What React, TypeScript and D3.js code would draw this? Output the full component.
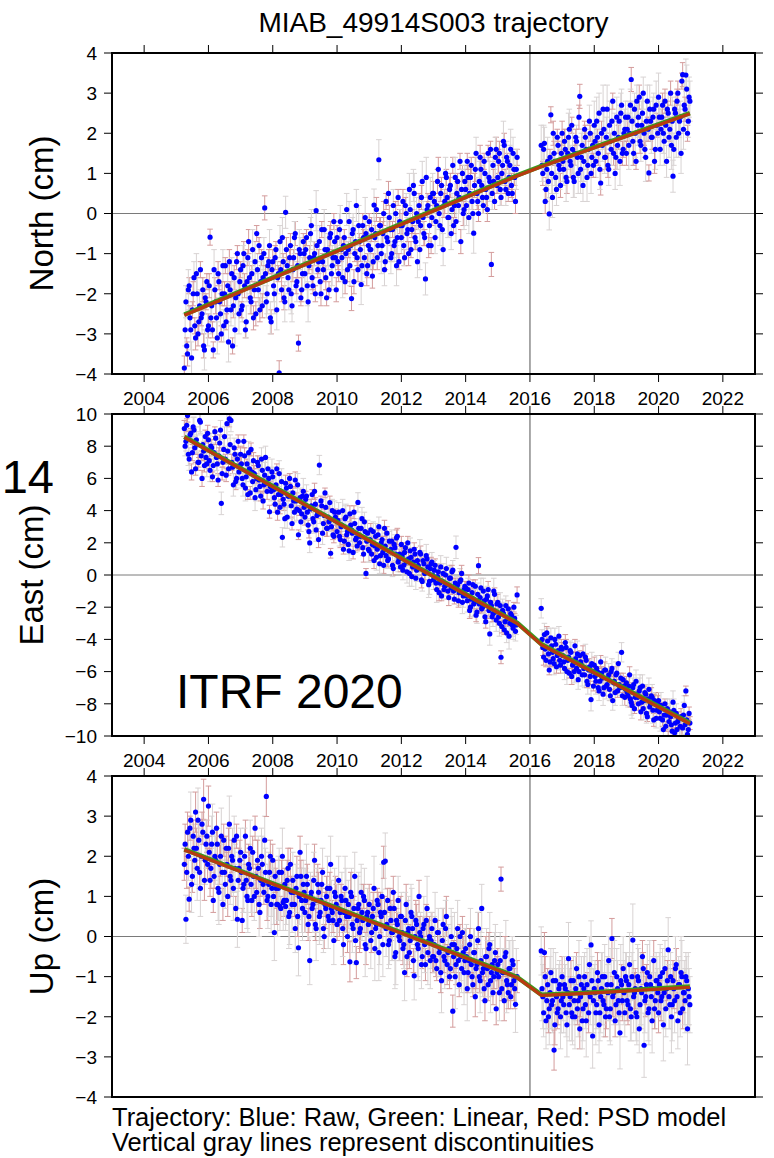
import React from 'react';
import * as d3 from 'd3';

const W = 774;
const H = 1158;

const TITLE = 'MIAB_49914S003 trajectory';
const FOOT1 = 'Trajectory: Blue: Raw, Green: Linear, Red: PSD model';
const FOOT2 = 'Vertical gray lines represent discontinuities';

const YEAR_TICKS = [2004, 2006, 2008, 2010, 2012, 2014, 2016, 2018, 2020, 2022];
const X_DOMAIN = [2003, 2023];
const DISCONTINUITIES = [2016.0];
const NU_TICKS = [-4, -3, -2, -1, 0, 1, 2, 3, 4];
const E_TICKS = [-10, -8, -6, -4, -2, 0, 2, 4, 6, 8, 10];

// epochs, first sampling set (decimal years)
const EPOCHS = [
  2005.25, 2005.30, 2005.35, 2005.40, 2005.45, 2005.50, 2005.55, 2005.60, 2005.65, 2005.70, 2005.75, 2005.80, 2005.85, 2005.90, 2005.95,
  2006.00, 2006.05, 2006.10, 2006.15, 2006.20, 2006.25, 2006.30, 2006.35, 2006.40, 2006.45, 2006.50, 2006.55, 2006.60, 2006.65, 2006.70, 2006.75, 2006.80, 2006.85, 2006.90, 2006.95,
  2007.00, 2007.05, 2007.10, 2007.15, 2007.20, 2007.25, 2007.30, 2007.35, 2007.40, 2007.45, 2007.50, 2007.55, 2007.60, 2007.65, 2007.70, 2007.75, 2007.80, 2007.85, 2007.90, 2007.95,
  2008.00, 2008.05, 2008.10, 2008.15, 2008.20, 2008.25, 2008.30, 2008.35, 2008.40, 2008.45, 2008.50, 2008.55, 2008.60, 2008.65, 2008.70, 2008.75, 2008.80, 2008.85, 2008.90, 2008.95,
  2009.00, 2009.05, 2009.10, 2009.15, 2009.20, 2009.25, 2009.30, 2009.35, 2009.40, 2009.45, 2009.50, 2009.55, 2009.60, 2009.65, 2009.70, 2009.75, 2009.80, 2009.85, 2009.90, 2009.95,
  2010.00, 2010.05, 2010.10, 2010.15, 2010.20, 2010.25, 2010.30, 2010.35, 2010.40, 2010.45, 2010.50, 2010.55, 2010.60, 2010.65, 2010.70, 2010.75, 2010.80, 2010.85, 2010.90, 2010.95,
  2011.00, 2011.05, 2011.10, 2011.15, 2011.20, 2011.25, 2011.30, 2011.35, 2011.40, 2011.45, 2011.50, 2011.55, 2011.60, 2011.65, 2011.70, 2011.75, 2011.80, 2011.85, 2011.90, 2011.95,
  2012.00, 2012.05, 2012.10, 2012.15, 2012.20, 2012.25, 2012.30, 2012.35, 2012.40, 2012.45, 2012.50, 2012.55, 2012.60, 2012.65, 2012.70, 2012.75, 2012.80, 2012.85, 2012.90, 2012.95,
  2013.00, 2013.05, 2013.10, 2013.15, 2013.20, 2013.25, 2013.30, 2013.35, 2013.40, 2013.45, 2013.50, 2013.55, 2013.60, 2013.65, 2013.70, 2013.75, 2013.80, 2013.85, 2013.90, 2013.95,
  2014.00, 2014.05, 2014.10, 2014.15, 2014.20, 2014.25, 2014.30, 2014.35, 2014.40, 2014.45, 2014.50, 2014.55, 2014.60, 2014.65, 2014.70, 2014.75, 2014.80, 2014.85, 2014.90, 2014.95,
  2015.00, 2015.05, 2015.10, 2015.15, 2015.20, 2015.25, 2015.30, 2015.35, 2015.40, 2015.45, 2015.50, 2015.55, 2015.60,
  2016.35, 2016.40, 2016.45, 2016.50, 2016.55, 2016.60, 2016.65, 2016.70, 2016.75, 2016.80, 2016.85, 2016.90, 2016.95,
  2017.00, 2017.05, 2017.10, 2017.15, 2017.20, 2017.25, 2017.30, 2017.35, 2017.40, 2017.45, 2017.50, 2017.55, 2017.60, 2017.65, 2017.70, 2017.75, 2017.80, 2017.85, 2017.90, 2017.95,
  2018.00, 2018.05, 2018.10, 2018.15, 2018.20, 2018.25, 2018.30, 2018.35, 2018.40, 2018.45, 2018.50, 2018.55, 2018.60, 2018.65, 2018.70, 2018.75, 2018.80, 2018.85, 2018.90, 2018.95,
  2019.00, 2019.05, 2019.10, 2019.15, 2019.20, 2019.25, 2019.30, 2019.35, 2019.40, 2019.45, 2019.50, 2019.55, 2019.60, 2019.65, 2019.70, 2019.75, 2019.80, 2019.85, 2019.90, 2019.95,
  2020.00, 2020.05, 2020.10, 2020.15, 2020.20, 2020.25, 2020.30, 2020.35, 2020.40, 2020.45, 2020.50, 2020.55, 2020.60, 2020.65, 2020.70, 2020.75, 2020.80, 2020.85, 2020.90, 2020.95,
];

// epochs, second (interleaved) sampling set
const EPOCHS_B = [
  2005.275, 2005.325, 2005.375, 2005.425, 2005.475, 2005.525, 2005.575, 2005.625, 2005.675, 2005.725, 2005.775, 2005.825, 2005.875, 2005.925, 2005.975,
  2006.025, 2006.075, 2006.125, 2006.175, 2006.225, 2006.275, 2006.325, 2006.375, 2006.425, 2006.475, 2006.525, 2006.575, 2006.625, 2006.675, 2006.725, 2006.775, 2006.825, 2006.875, 2006.925, 2006.975,
  2007.025, 2007.075, 2007.125, 2007.175, 2007.225, 2007.275, 2007.325, 2007.375, 2007.425, 2007.475, 2007.525, 2007.575, 2007.625, 2007.675, 2007.725, 2007.775, 2007.825, 2007.875, 2007.925, 2007.975,
  2008.025, 2008.075, 2008.125, 2008.175, 2008.225, 2008.275, 2008.325, 2008.375, 2008.425, 2008.475, 2008.525, 2008.575, 2008.625, 2008.675, 2008.725, 2008.775, 2008.825, 2008.875, 2008.925, 2008.975,
  2009.025, 2009.075, 2009.125, 2009.175, 2009.225, 2009.275, 2009.325, 2009.375, 2009.425, 2009.475, 2009.525, 2009.575, 2009.625, 2009.675, 2009.725, 2009.775, 2009.825, 2009.875, 2009.925, 2009.975,
  2010.025, 2010.075, 2010.125, 2010.175, 2010.225, 2010.275, 2010.325, 2010.375, 2010.425, 2010.475, 2010.525, 2010.575, 2010.625, 2010.675, 2010.725, 2010.775, 2010.825, 2010.875, 2010.925, 2010.975,
  2011.025, 2011.075, 2011.125, 2011.175, 2011.225, 2011.275, 2011.325, 2011.375, 2011.425, 2011.475, 2011.525, 2011.575, 2011.625, 2011.675, 2011.725, 2011.775, 2011.825, 2011.875, 2011.925, 2011.975,
  2012.025, 2012.075, 2012.125, 2012.175, 2012.225, 2012.275, 2012.325, 2012.375, 2012.425, 2012.475, 2012.525, 2012.575, 2012.625, 2012.675, 2012.725, 2012.775, 2012.825, 2012.875, 2012.925, 2012.975,
  2013.025, 2013.075, 2013.125, 2013.175, 2013.225, 2013.275, 2013.325, 2013.375, 2013.425, 2013.475, 2013.525, 2013.575, 2013.625, 2013.675, 2013.725, 2013.775, 2013.825, 2013.875, 2013.925, 2013.975,
  2014.025, 2014.075, 2014.125, 2014.175, 2014.225, 2014.275, 2014.325, 2014.375, 2014.425, 2014.475, 2014.525, 2014.575, 2014.625, 2014.675, 2014.725, 2014.775, 2014.825, 2014.875, 2014.925, 2014.975,
  2015.025, 2015.075, 2015.125, 2015.175, 2015.225, 2015.275, 2015.325, 2015.375, 2015.425, 2015.475, 2015.525, 2015.575,
  2016.375, 2016.425, 2016.475, 2016.525, 2016.575, 2016.625, 2016.675, 2016.725, 2016.775, 2016.825, 2016.875, 2016.925, 2016.975,
  2017.025, 2017.075, 2017.125, 2017.175, 2017.225, 2017.275, 2017.325, 2017.375, 2017.425, 2017.475, 2017.525, 2017.575, 2017.625, 2017.675, 2017.725, 2017.775, 2017.825, 2017.875, 2017.925, 2017.975,
  2018.025, 2018.075, 2018.125, 2018.175, 2018.225, 2018.275, 2018.325, 2018.375, 2018.425, 2018.475, 2018.525, 2018.575, 2018.625, 2018.675, 2018.725, 2018.775, 2018.825, 2018.875, 2018.925, 2018.975,
  2019.025, 2019.075, 2019.125, 2019.175, 2019.225, 2019.275, 2019.325, 2019.375, 2019.425, 2019.475, 2019.525, 2019.575, 2019.625, 2019.675, 2019.725, 2019.775, 2019.825, 2019.875, 2019.925, 2019.975,
  2020.025, 2020.075, 2020.125, 2020.175, 2020.225, 2020.275, 2020.325, 2020.375, 2020.425, 2020.475, 2020.525, 2020.575, 2020.625, 2020.675, 2020.725, 2020.775, 2020.825, 2020.875, 2020.925, 2020.975,
];

// North (cm)
const NORTH = [
  -3.85, -2.2, -3.5, -1.8, -2.9, -2.4, -1.6, -3.1, -2.0, -2.7, -1.4, -2.5, -3.3, -2.1, -1.7,
  -2.8, -0.59, -2.3, -3.4, -1.9, -2.6, -1.5, -2.2, -3.0, -1.3, -2.0, -2.7, -1.8, -1.2, -2.4, -3.3, -1.6, -2.1, -1.0, -2.5,
  -1.4, -2.3, -1.0, -2.9, -1.7, -0.7, -2.1, -1.5, -2.6, -1.2, -0.5, -1.9, -2.4, -1.1, -1.6, 0.14, -2.2, -1.3, -0.8, -2.7,
  -1.2, -2.0, -0.9, -1.6, -3.97, -1.4, -0.6, -2.1, 0.03, -1.3, -1.9, -0.8, -2.3, -1.1, -0.5, -1.7, -3.23, -1.0, -1.9, -0.7,
  -1.5, -0.6, -2.2, -1.1, -0.3, -1.8, -1.0, 0.07, -1.4, -0.7, -2.0, -1.2, -0.4, -1.6, -0.9, -1.9, -0.5, -1.3, -0.2, -1.1,
  -0.6, -1.5, -0.2, -1.1, -0.8, -1.7, 0.1, -0.9, -1.3, -2.12, -0.4, -1.0, 0.2, -1.4, -0.7, -1.77, -0.3, -1.1, -0.5, -1.3,
  -0.2, -0.9, -1.56, 0.21, -0.5, -1.1, 1.34, -0.3, -0.8, 0.0, -1.2, -0.6, 0.5, -0.4, -1.0, 0.2, -0.7, -1.3, 0.4, -0.2,
  -0.6, 0.3, -1.1, 0.0, -0.4, 0.6, -0.9, -0.2, 0.5, -0.7, -1.2, 0.2, -0.3, 0.8, -0.5, -1.63, 0.1, -0.8, 0.4, -0.1,
  0.5, -0.6, 0.2, 1.1, -0.3, 0.7, -0.9, 0.3, 0.9, -0.1, 0.6, -0.5, 1.2, 0.2, -0.2, 0.8, 0.4, -0.7, 1.0, 0.1,
  0.6, 1.3, -0.1, 0.9, 0.3, -0.49, 1.1, 0.5, 0.0, 1.4, 0.7, 0.2, 1.0, 0.4, 1.5, 0.8, -1.27, 1.2, 0.3, 1.6,
  0.9, 1.5, 0.4, 1.2, 1.7, 0.6, 1.3, 0.9, 1.6, 0.5, 1.1, 0.3, 1.4,
  1.7, 1.0, 1.75, 0.6, 1.3, -0.01, 2.46, 0.4, 1.5, 0.9, 1.9, 1.2, 0.7,
  2.0, 1.1, 1.6, 0.8, 1.9, 1.3, 2.2, 0.9, 1.5, 1.8, 1.0, 2.92, 1.4, 0.7, 2.1, 1.6, 1.2, 2.3, 1.0, 1.7,
  2.2, 1.3, 1.9, 2.5, 0.76, 1.7, 2.1, 1.4, 2.6, 1.1, 1.8, 2.3, 1.5, 1.0, 2.4, 1.9, 1.3, 2.7, 1.6, 2.1,
  1.5, 2.4, 2.0, 3.34, 1.8, 2.6, 1.3, 2.2, 2.9, 1.7, 2.5, 2.0, 1.4, 2.8, 1.01, 2.3, 1.9, 2.6, 1.6, 2.2,
  2.9, 1.6, 2.4, 2.0, 2.8, 1.3, 2.5, 2.1, 1.7, 0.93, 2.6, 1.9, 3.0, 2.3, 1.5, 3.46, 2.7, 3.45, 2.0, 2.9,
];
const NORTH_B = [
  -2.9, -3.3, -1.9, -2.6, -3.6, -2.0, -2.8, -1.5, -3.0, -2.3, -2.6, -1.9, -3.4, -2.2, -2.9,
  -1.8, -2.6, -2.9, -1.4, -2.2, -3.1, -1.7, -2.5, -2.0, -2.8, -1.3, -2.4, -3.2, -1.9, -1.5, -2.3, -2.9, -1.2, -2.0, -1.7,
  -2.4, -1.3, -1.8, -2.7, -1.1, -1.6, -2.2, -0.9, -1.9, -2.5, -1.4, -0.8, -1.7, -2.3, -1.0, -1.5, -2.0, -1.2, -2.6, -1.4,
  -1.8, -1.1, -2.4, -1.5, -0.7, -1.9, -1.2, -2.2, -0.9, -1.6, -1.1, -2.0, -1.4, -0.6, -1.8, -1.3, -0.9, -2.1, -1.5, -1.0,
  -0.9, -1.8, -1.3, -0.5, -1.6, -1.1, -2.0, -0.8, -1.2, -1.7, -0.4, -1.4, -0.9, -2.1, -1.0, -0.6, -1.5, -1.1, -0.7, -1.9,
  -1.2, -0.4, -0.9, -1.6, -0.6, -1.0, -1.4, -0.2, -0.8, -0.5, -1.7, -0.7, -1.1, -0.3, -0.9, -1.3, -0.6, -0.1, -1.5, -0.8,
  -0.9, -0.4, -1.2, -0.6, 0.1, -0.8, -0.3, -1.0, -0.5, -1.4, 0.3, -0.7, -0.1, -1.1, -0.4, -0.8, 0.0, -0.6, -1.2, -0.3,
  -0.3, -0.8, 0.2, -0.5, -1.0, 0.1, -0.4, 0.7, -0.6, 0.0, -0.2, -0.9, 0.4, -0.1, -0.6, 0.9, 0.2, -0.3, -0.8, 0.5,
  0.3, -0.2, 0.8, 0.0, 0.5, -0.4, 0.2, 1.0, 0.4, -0.1, 0.7, 0.1, -0.3, 0.9, 0.5, 0.2, 1.3, 0.6, 0.0, 0.8,
  0.2, 0.9, 0.5, 1.2, 0.0, 0.7, 1.5, 0.3, 0.8, 1.1, 0.4, 1.3, 0.6, 0.1, 0.9, 1.6, 0.5, 0.8, 1.4, 0.7,
  1.3, 0.6, 1.0, 1.8, 0.8, 1.4, 0.5, 1.2, 0.7, 1.5, 0.9, 1.1,
  1.2, 1.6, 0.3, 1.1, 0.8, 1.4, 1.0, 2.0, 1.3, 0.6, 1.7, 1.1, 1.5,
  1.3, 1.8, 0.9, 1.5, 2.1, 1.2, 1.6, 0.8, 1.9, 1.4, 2.4, 1.1, 1.7, 1.3, 1.9, 0.9, 1.6, 2.0, 1.4, 1.2,
  1.8, 2.3, 1.5, 1.1, 2.0, 2.6, 1.4, 1.9, 1.2, 2.2, 1.6, 2.8, 2.0, 1.4, 1.7, 2.3, 2.5, 1.5, 2.0, 2.4,
  2.1, 1.7, 2.7, 2.3, 1.5, 2.0, 2.8, 2.4, 1.8, 2.2, 3.0, 1.6, 2.3, 2.1, 2.6, 1.9, 2.4, 1.3, 2.7, 2.0,
  2.4, 2.1, 2.7, 1.8, 2.2, 2.6, 1.9, 3.0, 2.3, 1.6, 2.5, 2.8, 2.0, 2.4, 3.3, 2.1, 2.6, 3.1, 2.3, 2.8,
];

// East (cm)
const EAST = [
  9.1, 8.3, 9.9, 7.2, 8.8, 7.6, 9.0, 6.6, 8.1, 7.0, 9.5, 6.0, 7.7, 8.6, 6.9,
  8.4, 6.5, 7.9, 6.8, 8.9, 7.3, 5.9, 8.2, 4.45, 7.0, 8.6, 6.2, 7.7, 9.7, 9.6, 6.7, 7.9, 5.8, 7.2, 6.4,
  7.5, 6.0, 8.3, 5.4, 6.9, 7.6, 5.1, 6.4, 7.1, 4.8, 6.0, 6.8, 5.5, 7.2, 4.6, 6.2, 5.7, 6.6, 3.93, 5.2,
  6.1, 4.8, 5.6, 3.9, 6.3, 5.0, 2.34, 4.4, 5.7, 3.6, 4.9, 5.5, 3.2, 4.6, 5.9, 4.1, 2.5, 4.8, 3.8, 5.2,
  3.6, 4.9, 3.1, 1.99, 4.3, 3.5, 5.2, 2.8, 3.9, 6.83, 4.6, 2.6, 3.7, 4.2, 2.9, 3.3, 1.35, 4.0, 2.4, 3.6,
  2.7, 3.9, 2.2, 3.1, 1.6, 3.5, 2.5, 1.9, 3.8, 2.8, 1.4, 3.2, 2.3, 4.51, 2.0, 2.9, 1.7, 3.3, 0.1, 2.6,
  1.5, 2.8, 1.9, 0.9, 2.4, 1.6, 3.0, 1.2, 2.2, 0.6, 1.8, 2.6, 1.0, 1.5, 2.1, 0.4, 1.7, 2.3, 0.8, 1.3,
  1.9, 0.3, 1.4, 0.8, 2.0, 0.1, 1.1, 0.5, 1.6, -0.2, 0.9, 0.4, 1.3, -0.4, 0.7, 0.2, 1.0, -0.6, 0.4, 0.8,
  -0.3, 0.6, -0.9, 0.2, -0.5, -1.3, 0.1, -0.7, 0.4, -1.0, -0.2, -0.8, 0.3, -1.5, 1.72, -0.6, -1.1, -0.3, -1.7, -0.9,
  -0.8, -1.6, -0.5, -2.0, -1.1, -1.8, -0.7, -2.3, 0.58, -1.4, -2.1, -1.0, -2.6, -1.5, -0.9, -3.66, -1.9, -2.4, -1.2, -2.8,
  -1.7, -3.0, -5.11, -2.2, -3.4, -1.9, -2.7, -3.8, -2.4, -3.1, -2.0, -3.5, -1.24,
  -2.07, -4.5, -3.7, -5.3, -4.1, -5.9, -3.9, -4.8, -5.5, -4.3, -5.0, -3.8, -5.6,
  -4.6, -5.4, -4.2, -6.0, -5.1, -4.7, -6.3, -5.5, -4.4, -5.8, -6.5, -5.0, -5.6, -4.9, -6.2, -5.3, -6.8, -5.7, -7.74, -6.0,
  -5.6, -6.6, -6.0, -7.2, -5.4, -6.4, -7.0, -5.9, -6.8, -6.2, -7.5, -5.8, -6.7, -7.3, -6.1, -5.5, -7.0, -4.8, -6.5, -7.6,
  -6.7, -7.5, -6.2, -7.9, -7.0, -8.3, -6.6, -7.6, -7.2, -8.5, -6.9, -7.8, -7.4, -8.8, -7.1, -8.0, -7.6, -9.0, -7.9, -8.4,
  -7.8, -8.9, -8.3, -9.6, -8.0, -8.7, -10.2, -8.5, -9.3, -7.9, -9.8, -8.6, -9.1, -10.3, -8.8, -9.5, -8.1, -7.2, -9.9, -8.6,
];
const EAST_B = [
  8.0, 9.3, 7.5, 8.7, 6.4, 9.2, 7.9, 8.4, 7.0, 9.6, 7.4, 8.1, 6.8, 7.3, 8.8,
  7.1, 8.0, 6.1, 7.6, 8.5, 6.9, 7.4, 9.0, 6.3, 7.8, 7.2, 9.4, 6.6, 8.1, 7.0, 5.6, 7.5, 6.0, 8.3, 6.8,
  6.9, 5.6, 7.4, 6.1, 5.0, 6.6, 7.8, 5.8, 6.3, 5.3, 7.0, 5.9, 4.9, 6.5, 5.6, 7.3, 5.2, 6.0, 5.5, 6.4,
  5.3, 4.4, 6.6, 5.0, 4.2, 5.8, 4.7, 3.5, 5.4, 4.9, 6.0, 4.3, 5.1, 3.9, 4.6, 5.6, 4.0, 3.3, 4.9, 4.2,
  4.7, 3.9, 2.7, 4.1, 5.0, 3.3, 4.4, 3.7, 2.2, 3.8, 4.3, 3.2, 5.1, 2.9, 3.6, 4.5, 3.0, 2.5, 3.9, 3.4,
  3.4, 2.4, 3.0, 4.0, 2.1, 3.6, 2.7, 1.5, 3.1, 2.6, 3.9, 2.2, 1.8, 2.9, 2.4, 3.5, 1.3, 2.7, 2.1, 1.6,
  2.2, 1.3, 2.7, 1.8, 1.1, 2.5, 0.7, 2.0, 1.4, 2.9, 1.2, 0.9, 2.1, 1.6, 0.6, 1.9, 1.3, 2.4, 1.0, 0.5,
  1.2, 0.6, 1.7, 0.2, 1.0, 1.5, -0.1, 0.8, 1.3, 0.3, 0.6, 1.4, -0.3, 0.9, 0.1, 1.2, 0.5, -0.4, 0.7, 0.0,
  0.3, -0.5, -0.1, -1.1, 0.5, -0.4, -0.9, 0.0, -0.6, -1.4, -0.2, 0.2, -1.0, -0.5, -0.8, -1.6, -0.4, 0.1, -1.3, -0.7,
  -1.3, -0.9, -2.2, -1.5, -0.6, -1.7, -2.5, -1.2, -1.8, -0.8, -2.0, -1.6, -2.9, -1.3, -2.2, -1.7, -2.6, -1.0, -2.3, -1.8,
  -2.6, -1.9, -3.2, -2.4, -2.9, -3.6, -2.1, -3.0, -2.5, -3.3, -2.7, -3.1,
  -4.0, -5.1, -4.6, -3.6, -4.9, -5.4, -4.4, -5.2, -4.0, -5.7, -4.7, -5.3, -4.5,
  -5.0, -5.8, -4.5, -5.3, -6.1, -4.8, -5.6, -6.0, -5.2, -4.9, -6.0, -5.4, -6.2, -5.8, -5.1, -6.6, -5.9, -6.3, -5.5, -6.9,
  -6.3, -5.8, -7.0, -6.6, -6.1, -7.4, -5.9, -6.9, -6.4, -7.1, -6.0, -7.8, -6.6, -6.2, -7.2, -6.8, -6.4, -7.5, -6.9, -7.1,
  -7.3, -6.9, -7.7, -8.1, -6.8, -7.6, -7.4, -8.0, -7.0, -7.9, -8.3, -7.3, -8.6, -7.7, -8.2, -7.5, -8.4, -7.8, -8.9, -8.0,
  -8.5, -8.1, -9.0, -8.7, -9.4, -8.3, -9.1, -8.8, -9.7, -8.4, -9.2, -9.6, -8.9, -9.4, -10.1, -8.7, -9.3, -9.0, -9.6, -9.2,
];

// Up (cm)
const UP = [
  1.8, 0.43, 2.6, 0.93, 2.9, 1.5, 2.2, 3.1, 1.7, 2.4, 1.2, 2.8, 3.42, 1.9, 2.5,
  3.25, 1.4, 2.3, 0.9, 2.0, 2.7, 1.2, 1.8, 2.5, 0.8, 1.6, 2.2, 1.0, 2.8, 1.4, 1.9, 2.4, 0.7, 0.43, 1.7,
  2.1, 0.4, 1.3, 2.5, 1.0, 1.8, 2.2, 0.9, 1.5, 2.7, 1.1, 1.7, 0.6, 2.0, 1.3, 2.4, 3.49, 1.0, 1.6, 0.8,
  1.9, 0.1, 1.2, 0.8, 1.6, 0.7, 2.0, 0.9, 0.75, 1.4, 0.5, 1.8, 0.8, 1.1, 0.2, 1.5, -0.28, 2.1, 0.9, 1.3,
  0.6, 1.5, 0.3, -0.6, 1.1, 0.8, 1.9, 0.2, 1.3, 0.5, 0.9, 1.6, 0.0, 0.7, 1.2, 0.4, 1.8, 0.6, -0.1, 1.0,
  0.3, 1.4, 0.6, 0.9, -0.2, 1.2, 0.5, 0.8, -0.63, 1.0, 0.2, 1.5, -0.65, 0.7, 0.1, 1.1, 0.4, 0.9, -0.3, 0.6,
  0.8, -0.1, 0.5, 1.2, 0.2, 0.9, -0.4, 0.6, 1.0, 1.85, 1.88, 0.3, -0.2, 0.7, 0.1, 1.1, -0.5, 0.4, 0.9, -0.1,
  0.5, -0.3, -0.9, 0.8, 0.1, -0.4, 0.6, 0.2, -0.98, 0.4, -0.2, 1.0, 0.0, -0.5, 0.3, -0.7, 0.7, -0.1, -0.6, 0.2,
  -0.5, 0.4, -0.8, 0.1, -0.3, -1.1, 0.3, -0.6, 0.5, -0.4, -1.0, 0.0, -1.86, -0.2, -0.7, 0.2, -1.2, -0.5, 0.1, -0.9,
  -0.3, -1.3, -0.6, 0.0, -1.0, -0.4, -1.5, -0.7, 0.2, -1.1, 0.7, -0.8, -1.6, -0.5, -1.2, -0.2, -0.9, -1.4, -0.6, -1.8,
  -0.7, -1.4, 1.43, -0.9, -1.6, -0.4, -1.2, -0.8, -1.5, -0.6, -1.1, -1.69, -1.0,
  -0.36, -1.5, -0.4, -2.1, -1.2, -1.8, -0.9, -1.6, -2.83, -1.1, -1.9, -1.3, -2.0,
  -1.0, -1.7, -1.3, -2.2, -0.55, -1.5, -1.9, -1.1, -2.0, -0.8, -1.6, -2.3, -1.2, -1.8, -1.0, -2.1, -1.4, -0.7, -0.21, -2.48,
  -1.3, -1.9, -0.9, -2.2, -1.5, -1.0, -1.7, -2.0, -1.2, -0.6, -1.8, -0.05, -1.4, -2.1, -1.0, -1.6, -2.4, -1.2, -0.8, -1.9,
  -1.1, -1.7, -0.7, -2.0, -0.09, -1.4, -1.9, -1.0, -2.3, -1.3, -0.5, -2.71, -1.5, -0.9, -1.8, -1.2, -2.1, -0.6, -1.6, -1.1,
  -1.9, -1.0, -1.5, -2.2, -0.8, -1.3, -0.33, -1.7, -2.0, -1.1, -1.6, -0.7, -2.1, -1.2, -0.9, -1.8, -1.4, -1.0, -2.3, -1.5,
];
const UP_B = [
  2.3, 1.6, 2.0, 2.7, 1.3, 2.5, 1.9, 2.2, 2.9, 1.6, 2.0, 2.6, 1.4, 2.3, 1.8,
  2.1, 1.7, 2.6, 1.5, 1.9, 2.3, 1.1, 2.0, 1.6, 2.4, 1.3, 1.8, 2.2, 1.5, 2.0, 1.2, 1.7, 2.5, 1.4, 1.9,
  1.6, 1.2, 2.0, 1.4, 0.9, 1.7, 1.3, 2.1, 1.0, 1.5, 1.9, 0.8, 1.4, 1.8, 1.1, 1.6, 0.9, 1.3, 2.0, 1.2,
  1.0, 1.5, 0.8, 1.2, 0.75, 1.6, 0.85, 1.3, 0.9, 1.7, 0.6, 1.1, 1.4, 0.8, 1.2, 0.5, 1.0, 1.5, 0.7, 1.1,
  0.9, 1.3, 0.5, 1.0, 0.7, 1.4, 0.3, 0.9, 1.1, 0.6, 1.3, 0.2, 0.8, 1.0, 0.5, 1.2, 0.7, 0.4, 1.1, 0.8,
  0.7, 0.4, 1.0, 0.2, 0.6, 0.9, 0.0, 0.5, 1.1, 0.3, 0.7, -0.1, 0.4, 0.8, 0.2, 0.6, 1.0, -0.2, 0.5, 0.3,
  0.4, 0.1, 0.7, -0.3, 0.3, 0.8, 0.0, 0.5, -0.2, 0.6, 0.2, 0.9, -0.1, 0.4, 0.1, 0.7, -0.4, 0.3, 0.0, 0.5,
  0.1, -0.2, 0.4, -0.5, 0.2, -0.1, 0.5, -0.6, 0.0, 0.3, -0.3, 0.1, -0.7, 0.2, -0.2, 0.4, -0.4, 0.0, -0.1, -0.5,
  -0.2, -0.6, 0.1, -0.4, -0.9, -0.1, -0.5, 0.2, -0.7, -0.3, -0.8, -0.2, -0.5, -1.0, -0.3, -0.6, 0.0, -0.8, -0.4, -0.6,
  -0.5, -0.9, -0.2, -0.7, -1.2, -0.4, -0.8, -0.1, -1.0, -0.6, -0.9, -1.3, -0.5, -0.8, -0.3, -1.1, -0.7, -1.0, -0.4, -0.9,
  -1.0, -0.6, -1.3, -0.9, -0.5, -1.1, -1.4, -0.8, -1.2, -0.7, -1.3, -1.0,
  -1.3, -1.9, -1.0, -1.6, -2.0, -1.4, -1.7, -1.1, -2.2, -1.5, -1.8, -1.2, -1.6,
  -1.5, -1.2, -1.9, -1.4, -1.7, -1.1, -2.0, -1.6, -1.3, -1.8, -1.0, -1.5, -2.1, -1.3, -1.7, -1.2, -1.9, -1.5, -1.1, -1.6,
  -1.4, -1.7, -1.1, -1.9, -1.3, -1.6, -1.0, -1.8, -1.4, -2.0, -1.2, -1.5, -0.9, -1.7, -1.3, -1.9, -1.1, -1.6, -1.4, -1.0,
  -1.6, -1.2, -1.8, -1.0, -1.5, -1.3, -2.0, -1.1, -1.7, -1.4, -0.8, -1.6, -1.2, -1.9, -1.0, -1.5, -1.3, -1.8, -1.1, -1.4,
  -1.2, -1.6, -0.9, -1.4, -1.8, -1.1, -1.5, -1.0, -1.7, -1.3, -0.8, -1.5, -1.2, -1.9, -1.0, -1.4, -1.6, -1.1, -1.3, -1.7,
];

// one-sigma uncertainties in mm, one digit per epoch (groups by year)
const SIGMA_N_MM = [
  '343252434325342', '32423534243253423425', '24325342352432534243', '35243253425342352432',
  '42534235243253423524', '32452342534243253423', '25342352432534243523', '43253423524325342352',
  '34235243253423524325', '52432534235243253423', '4325342352432',
  '5343642534253', '34536425345364253453', '64253453642534536425', '34536425345364253453', '64253453642534536425',
];
const SIGMA_NB_MM = [
  '425343253423524', '34253425342352434253', '25342435234253425342', '43524325342534235243',
  '35243425342352434253', '24352435243425342534', '43253425342534243524', '35243524342534253425',
  '24342534253425342534', '53425342534243524352', '342534253425',
  '4635425364253', '53645364253645364253', '46353645364253645354', '36453645364253645364', '45364253645364253645',
];
const SIGMA_E_MM = [
  '564735846375648', '47563845736485746538', '56483746583647583746', '64758364573846573648',
  '57364857463748563745', '46573846574836475638', '74658364758463748563', '56374865473856473846',
  '64857364758463748573', '47563847563846573847', '5847365847365',
  '6574836574865', '47583657486375846573', '58364758473658473645', '47586374857463758465', '58473658473647586374',
];
const SIGMA_EB_MM = [
  '647356485736475', '58364756483746573648', '47563846574836475638', '65374856473846573648',
  '57463748564735846375', '46573846574836475638', '74658364758463748563', '56374865473856473846',
  '64857364758463748573', '47563847563846573847', '584736584736',
  '6574836574865', '47583657486375846573', '58364758473658473645', '47586374857463758465', '58473658473647586374',
];
const SIGMA_U_MM = [
  '465374658473564', '54736485746357486375', '63748574635847365847', '47586374658473657486',
  '58463748574635847365', '46375846573648573846', '57486375847365748365', '64758473658463748574',
  '47365847563748573648', '58473657486357486374', '4736584736574',
  '6857496857468', '57689576849578695768', '68579685769584769586', '75869578694857968576', '58697586958476958697',
];
const SIGMA_UB_MM = [
  '546374658473564', '45736485746357486375', '36748574635847365847', '74586374658473657486',
  '85463748574635847365', '64375846573648573846', '75486375847365748365', '46758473658463748574',
  '74365847563748573648', '85473657486357486374', '473658473657',
  '8657496857468', '67689576849578695768', '86579685769584769586', '57869578694857968576', '85697586958476958697',
];

// model trajectories (knots: decimal year, cm)
const MODEL_N = [[2005.25, -2.52], [2015.6, 0.95], [2016.35, 1.18], [2020.975, 2.5]];
const MODEL_E = [[2005.25, 8.59], [2015.6, -2.97], [2016.35, -4.29], [2020.975, -9.2]];
const MODEL_U = [[2005.25, 2.17], [2015.6, -1.01], [2016.35, -1.45], [2017.6, -1.41], [2020.975, -1.25]];

const FONT = "'Liberation Sans', Arial, Helvetica, sans-serif";
const MINUS = '\u2212';

function parseSigma(groups: string[]): number[] {
  return groups.join('').split('').map((c) => Number(c) / 10);
}

type Series = { epochs: number[]; values: number[]; sigma: number[] };

type PanelCfg = {
  key: string;
  label: string;
  series: Series[];
  model: number[][];
  domain: number[];
  ticks: number[];
  top: number;
  bottom: number;
  labelX: number;
  xLabels: boolean;
  bottomTicks: boolean;
  redLimit: number;
};

const PANELS: PanelCfg[] = [
  {
    key: 'n', label: 'North (cm)',
    series: [
      { epochs: EPOCHS, values: NORTH, sigma: parseSigma(SIGMA_N_MM) },
      { epochs: EPOCHS_B, values: NORTH_B, sigma: parseSigma(SIGMA_NB_MM) },
    ],
    model: MODEL_N, domain: [-4, 4], ticks: NU_TICKS, top: 53, bottom: 374, labelX: 53, xLabels: true, bottomTicks: true, redLimit: 0.3,
  },
  {
    key: 'e', label: 'East (cm)',
    series: [
      { epochs: EPOCHS, values: EAST, sigma: parseSigma(SIGMA_E_MM) },
      { epochs: EPOCHS_B, values: EAST_B, sigma: parseSigma(SIGMA_EB_MM) },
    ],
    model: MODEL_E, domain: [-10, 10], ticks: E_TICKS, top: 414, bottom: 736, labelX: 43, xLabels: true, bottomTicks: true, redLimit: 0.5,
  },
  {
    key: 'u', label: 'Up (cm)',
    series: [
      { epochs: EPOCHS, values: UP, sigma: parseSigma(SIGMA_U_MM) },
      { epochs: EPOCHS_B, values: UP_B, sigma: parseSigma(SIGMA_UB_MM) },
    ],
    model: MODEL_U, domain: [-4, 4], ticks: NU_TICKS, top: 776, bottom: 1097, labelX: 53, xLabels: false, bottomTicks: false, redLimit: 0.5,
  },
];

function fmt(v: number) {
  return v < 0 ? MINUS + Math.abs(v) : String(v);
}

function Panel({ cfg, x }: { cfg: PanelCfg; x: d3.ScaleLinear<number, number> }) {
  const y = d3.scaleLinear().domain(cfg.domain).range([cfg.bottom, cfg.top]);
  const [x0, x1] = x.range();
  const clipId = `clip-${cfg.key}`;
  const line = d3.line<number[]>().x((d) => x(d[0])).y((d) => y(d[1]));
  const path = line(cfg.model) || '';
  const cap = 2.8;
  return (
    <g>
      <defs>
        <clipPath id={clipId}>
          <rect x={x0} y={cfg.top} width={x1 - x0} height={cfg.bottom - cfg.top} />
        </clipPath>
      </defs>
      <g clipPath={`url(#${clipId})`}>
        <line x1={x0} x2={x1} y1={y(0)} y2={y(0)} stroke="#7a7a7a" strokeWidth={1} />
        {DISCONTINUITIES.map((t) => (
          <line key={t} x1={x(t)} x2={x(t)} y1={cfg.top} y2={cfg.bottom} stroke="#8c8c8c" strokeWidth={1.5} />
        ))}
        {cfg.series.map((s, si) => (
          <g key={'eb' + si} strokeWidth={1} fill="none">
            {s.epochs.map((t, i) => {
              const v = s.values[i];
              if (v === undefined) return null;
              const sg = s.sigma[i] ?? 0.4;
              const px = x(t);
              const ya = y(v + sg);
              const yb = y(v - sg);
              const col = sg <= cfg.redLimit ? '#d49c9c' : '#d8d3d3';
              return (
                <g key={i} stroke={col}>
                  <line x1={px} x2={px} y1={ya} y2={yb} />
                  <line x1={px - cap} x2={px + cap} y1={ya} y2={ya} />
                  <line x1={px - cap} x2={px + cap} y1={yb} y2={yb} />
                </g>
              );
            })}
          </g>
        ))}
        {cfg.series.map((s, si) => (
          <g key={'pt' + si} fill="#0000ff">
            {s.epochs.map((t, i) => {
              const v = s.values[i];
              if (v === undefined) return null;
              return <circle key={i} cx={x(t)} cy={y(v)} r={2.6} />;
            })}
          </g>
        ))}
        <path d={path} fill="none" stroke="#3b9a1c" strokeWidth={4.6} strokeLinejoin="round" />
        <path d={path} fill="none" stroke="#b83a10" strokeWidth={3.2} strokeLinejoin="round" transform="translate(0,0.6)" />
      </g>
      <rect x={x0} y={cfg.top} width={x1 - x0} height={cfg.bottom - cfg.top} fill="none" stroke="#000" strokeWidth={2} />
      <g stroke="#000" strokeWidth={1}>
        {YEAR_TICKS.map((t) => (
          <line key={'t' + t} x1={x(t)} x2={x(t)} y1={cfg.top} y2={cfg.top - 8} />
        ))}
        {cfg.bottomTicks &&
          YEAR_TICKS.map((t) => <line key={'b' + t} x1={x(t)} x2={x(t)} y1={cfg.bottom} y2={cfg.bottom + 8} />)}
        {cfg.ticks.map((v) => (
          <line key={'l' + v} x1={x0 - 8} x2={x0} y1={y(v)} y2={y(v)} />
        ))}
        {cfg.ticks.map((v) => (
          <line key={'r' + v} x1={x1} x2={x1 + 8} y1={y(v)} y2={y(v)} />
        ))}
      </g>
      <g fontSize={19} fill="#000" fontFamily={FONT}>
        {cfg.ticks.map((v) => (
          <text key={v} x={x0 - 15} y={y(v)} dy="0.36em" textAnchor="end">
            {fmt(v)}
          </text>
        ))}
        {cfg.xLabels &&
          YEAR_TICKS.map((t) => (
            <text key={t} x={x(t)} y={cfg.bottom + 31} textAnchor="middle">
              {t}
            </text>
          ))}
      </g>
      <text
        transform={`translate(${cfg.labelX},${(cfg.top + cfg.bottom) / 2}) rotate(-90)`}
        textAnchor="middle"
        fontSize={33}
        fontFamily={FONT}
        fill="#000"
      >
        {cfg.label}
      </text>
    </g>
  );
}

export default function App() {
  const x = d3.scaleLinear().domain(X_DOMAIN).range([112, 755]);
  return (
    <svg
      width={W}
      height={H}
      viewBox={`0 0 ${W} ${H}`}
      style={{ position: 'absolute', left: 0, top: 0, background: '#fff' }}
      fontFamily={FONT}
    >
      <rect x={0} y={0} width={W} height={H} fill="#fff" />
      <text x={433.5} y={32} textAnchor="middle" fontSize={28} fill="#000">
        {TITLE}
      </text>
      {PANELS.map((p) => (
        <Panel key={p.key} cfg={p} x={x} />
      ))}
      <text x={54} y={493} textAnchor="end" fontSize={47} fill="#000">
        14
      </text>
      <text x={176} y={708} fontSize={48} fill="#000">
        ITRF 2020
      </text>
      <text x={112} y={1126} fontSize={25.5} fill="#000">
        {FOOT1}
      </text>
      <text x={112} y={1151} fontSize={25.5} fill="#000">
        {FOOT2}
      </text>
    </svg>
  );
}
